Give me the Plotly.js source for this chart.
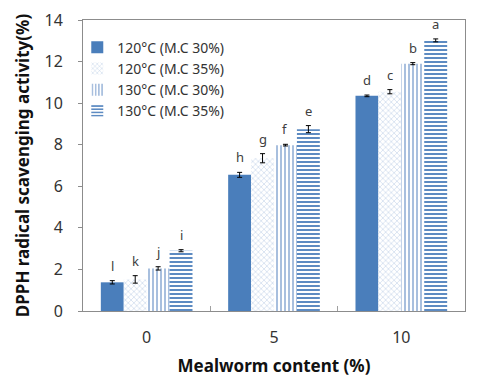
<!DOCTYPE html>
<html><head><meta charset="utf-8">
<script src="https://cdn.plot.ly/plotly-3.0.1.min.js"></script>
<style>body{margin:0;background:#fff}#c{width:481px;height:383px}</style>
</head><body><div id="c"></div>
<script>
const categories = ["0", "5", "10"];
const seriesNames = ["120°C (M.C 30%)", "120°C (M.C 35%)", "130°C (M.C 30%)", "130°C (M.C 35%)"];
const s1 = [1.38, 6.55, 10.35];
const s2 = [1.52, 7.35, 10.55];
const s3 = [2.05, 7.98, 11.9];
const s4 = [2.9, 8.75, 13.02];
const e1 = [0.08, 0.12, 0.04];
const e2 = [0.18, 0.22, 0.1];
const e3 = [0.08, 0.04, 0.05];
const e4 = [0.05, 0.17, 0.07];
const l1 = ["l", "h", "d"];
const l2 = ["k", "g", "c"];
const l3 = ["j", "f", "b"];
const l4 = ["i", "e", "a"];

const values = [s1, s2, s3, s4];
const errs = [e1, e2, e3, e4];
const letters = [l1, l2, l3, l4];
const blue = "#4a7ebb";
const patterns = [
  {shape: ""},
  {shape: "x", fgcolor: "#8aa9d4", bgcolor: "#ffffff", size: 4, solidity: 0.15},
  {shape: "|", fgcolor: "#6e94c9", bgcolor: "#ffffff", size: 4, solidity: 0.3},
  {shape: "-", fgcolor: "#4a7ebb", bgcolor: "#ffffff", size: 4, solidity: 0.45}
];
const bargap = 0.28;
const traces = values.map((v, k) => ({
  type: "bar", name: seriesNames[k], x: categories, y: v,
  marker: {color: k === 0 ? blue : "#ffffff", pattern: patterns[k], line: {width: 0}},
  error_y: {type: "data", array: errs[k], visible: true, color: "#000", thickness: 1, width: 2.5}
}));
const annotations = [];
const w = (1 - bargap) / 4;
values.forEach((v, k) => {
  v.forEach((val, i) => {
    annotations.push({
      x: i + (k - 1.5) * w, y: val + errs[k][i], xref: "x", yref: "y",
      text: letters[k][i], showarrow: false, yanchor: "bottom", yshift: 4,
      font: {family: "Noto Sans, sans-serif", size: 13, color: "#404040"}
    });
  });
});
const layout = {
  width: 481, height: 383,
  margin: {l: 83, r: 16, t: 20, b: 72},
  paper_bgcolor: "#fff", plot_bgcolor: "#fff",
  barmode: "group", bargap: bargap, bargroupgap: 0,
  font: {family: "Noto Sans, sans-serif", color: "#222"},
  showlegend: true,
  legend: {x: -0.015, y: 0.96, xanchor: "left", yanchor: "top", bgcolor: "rgba(0,0,0,0)",
    font: {size: 14, color: "#333"}, tracegroupgap: 0, itemwidth: 30},
  xaxis: {type: "category", showgrid: false, showline: true, linecolor: "#8c8c8c", mirror: true,
    ticks: "inside", tickson: "boundaries", ticklen: 5, tickcolor: "#a0a0a0",
    tickfont: {size: 16, color: "#333"}, ticklabelstandoff: 12,
    title: {text: "Mealworm content (%)", font: {size: 17, color: "#111", weight: "bold"}, standoff: 12}},
  yaxis: {range: [0, 14], dtick: 2, showgrid: false, showline: true, linecolor: "#8c8c8c", mirror: true,
    ticks: "outside", ticklen: 4, tickcolor: "#8c8c8c", zeroline: false,
    tickfont: {size: 16, color: "#333"}, ticklabelstandoff: 12,
    title: {text: "DPPH radical scavenging activity(%)", font: {size: 17, color: "#111", weight: "bold"}, standoff: 10}},
  annotations: annotations
};
Plotly.newPlot("c", traces, layout, {displayModeBar: false, staticPlot: true});
</script></body></html>
